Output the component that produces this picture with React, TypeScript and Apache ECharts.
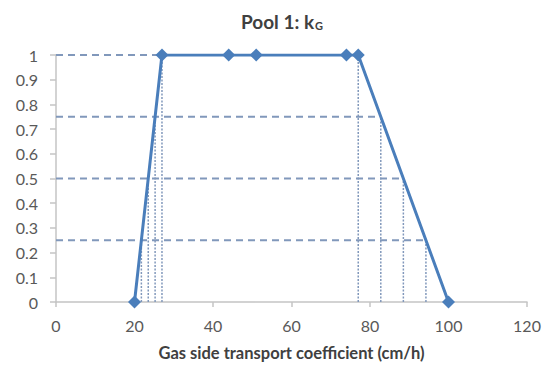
import React, { useEffect, useRef } from "react";
import * as echarts from "echarts";

const xValues = [20, 27, 44, 51, 74, 77, 100];
const yValues = [0, 1, 1, 1, 1, 1, 0];
const levels = [0.25, 0.5, 0.75, 1];
const leftCuts = [21.75, 23.5, 25.25, 27];
const rightCuts = [94.25, 88.5, 82.75, 77];
const xTicks = [0, 20, 40, 60, 80, 100, 120];
const yTicks = [0, 0.1, 0.2, 0.3, 0.4, 0.5, 0.6, 0.7, 0.8, 0.9, 1];

const guideColor = "#8198bb";
const lineColor = "#4a7ebb";
const textColor = "#595959";
const font = "Lato";

export default function App() {
  const ref = useRef<HTMLDivElement>(null);
  useEffect(() => {
    if (!ref.current) return;
    const chart = echarts.init(ref.current, null, { renderer: "svg" });
    const guides: any[] = [];
    levels.forEach((lvl, i) => {
      const endX = lvl === 1 ? leftCuts[i] : rightCuts[i];
      guides.push({
        type: "line",
        data: [[0, lvl], [endX, lvl]],
        symbol: "none",
        silent: true,
        lineStyle: { color: guideColor, width: 2, type: [7, 5] },
        z: 1,
      });
      guides.push({
        type: "line",
        data: [[leftCuts[i], 0], [leftCuts[i], lvl]],
        symbol: "none",
        silent: true,
        lineStyle: { color: guideColor, width: 1.5, type: [2, 1.5] },
        z: 1,
      });
      guides.push({
        type: "line",
        data: [[rightCuts[i], 0], [rightCuts[i], lvl]],
        symbol: "none",
        silent: true,
        lineStyle: { color: guideColor, width: 1.5, type: [2, 1.5] },
        z: 1,
      });
    });
    chart.setOption({
      animation: false,
      backgroundColor: "#ffffff",
      textStyle: { fontFamily: font },
      title: {
        text: "{a|Pool 1: k}{s|G}",
        left: 277,
        textAlign: "center",
        top: 6,
        textStyle: {
          rich: {
            a: { fontSize: 19, fontWeight: "bold", color: "#404040", fontFamily: font },
            s: { fontSize: 11, fontWeight: "bold", color: "#404040", fontFamily: font, padding: [9, 0, 0, 1] },
          },
        },
      },
      grid: { left: 56, right: 17, top: 55, bottom: 61, containLabel: false },
      xAxis: {
        type: "value",
        min: xTicks[0],
        max: xTicks[xTicks.length - 1],
        interval: 20,
        name: "Gas side transport coefficient (cm/h)",
        nameLocation: "middle",
        nameGap: 42,
        nameTextStyle: { fontSize: 16.5, fontWeight: "bold", color: "#404040", fontFamily: font },
        axisLine: { show: true, lineStyle: { color: "#c4c4c4", width: 1.5 } },
        axisTick: { show: true, length: 5, lineStyle: { color: "#c4c4c4", width: 1.5 } },
        axisLabel: { fontSize: 16, color: textColor, margin: 15, fontFamily: font },
        splitLine: { show: false },
      },
      yAxis: {
        type: "value",
        min: yTicks[0],
        max: yTicks[yTicks.length - 1],
        interval: 0.1,
        axisLine: { show: true, lineStyle: { color: "#c4c4c4", width: 1.5 } },
        axisTick: { show: true, length: 6, lineStyle: { color: "#c4c4c4", width: 1.5 } },
        axisLabel: { fontSize: 16, color: textColor, margin: 18, fontFamily: font },
        splitLine: { show: false },
      },
      series: [
        ...guides,
        {
          type: "line",
          data: xValues.map((x, i) => [x, yValues[i]]),
          symbol: "diamond",
          symbolSize: 13,
          lineStyle: { color: lineColor, width: 3 },
          itemStyle: { color: lineColor },
          z: 5,
        },
      ],
    });
    return () => chart.dispose();
  }, []);
  return (
    <div
      ref={ref}
      style={{ position: "fixed", left: 0, top: 0, width: 544, height: 366 }}
    />
  );
}
